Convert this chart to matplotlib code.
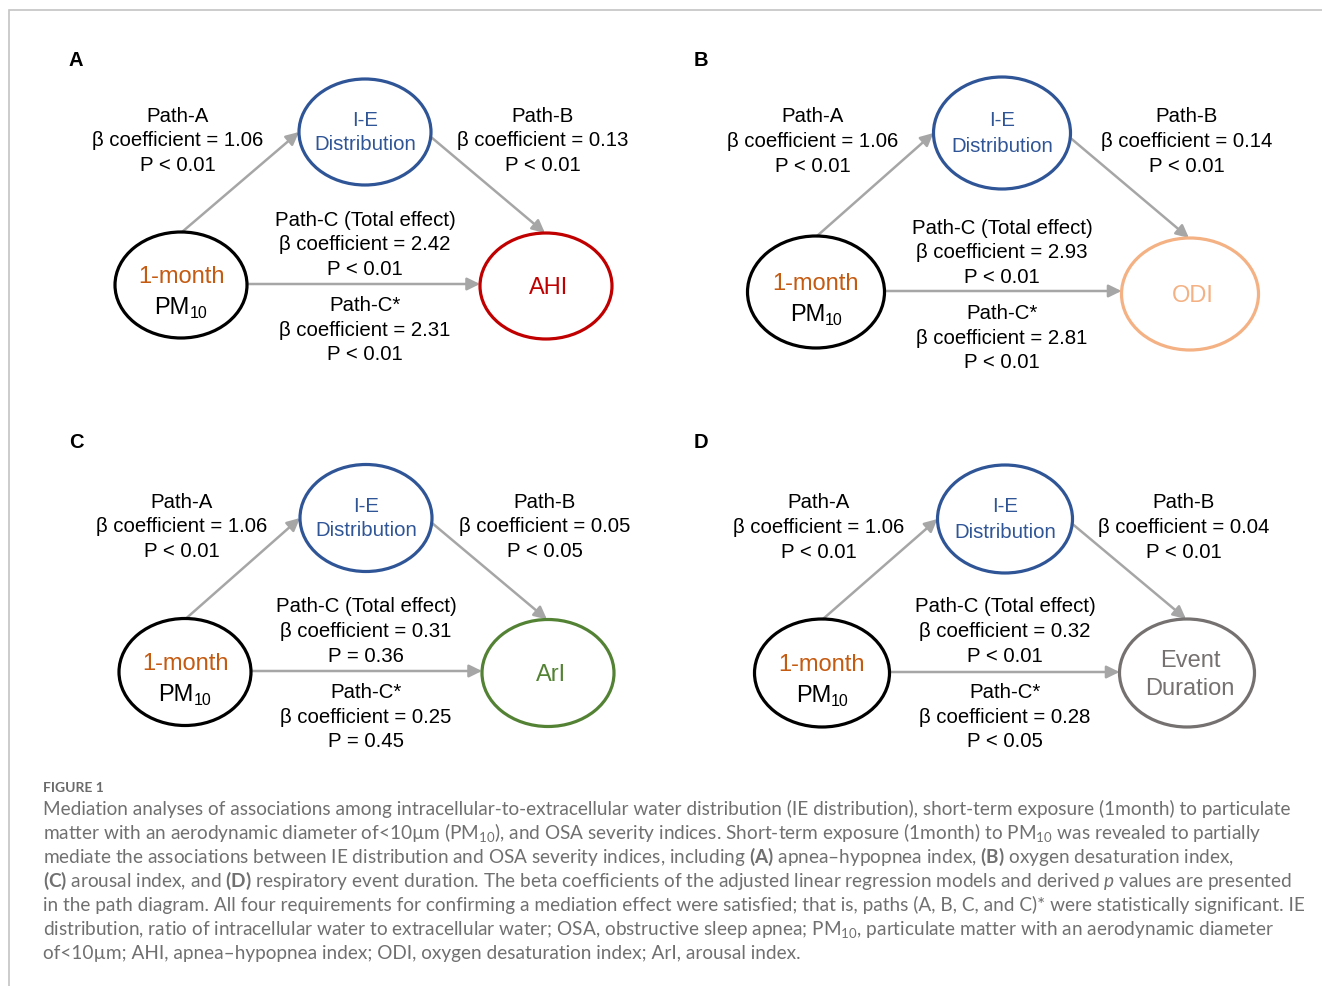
import matplotlib
matplotlib.use('Agg')
import matplotlib.pyplot as plt
from matplotlib.patches import Ellipse, FancyArrowPatch

plt.rcParams['font.family'] = ['Liberation Sans', 'DejaVu Sans']
plt.rcParams['mathtext.fontset'] = 'custom'
plt.rcParams['mathtext.rm'] = 'Lato'
plt.rcParams['mathtext.bf'] = 'Lato:bold'
plt.rcParams['mathtext.it'] = 'Lato:italic'

# mediation results per panel
panels = ['A', 'B', 'C', 'D']
outcomes = ['AHI', 'ODI', 'ArI', 'Event\nDuration']
beta_a = [1.06, 1.06, 1.06, 1.06]
p_a = ['P < 0.01', 'P < 0.01', 'P < 0.01', 'P < 0.01']
beta_b = [0.13, 0.14, 0.05, 0.04]
p_b = ['P < 0.01', 'P < 0.01', 'P < 0.05', 'P < 0.01']
beta_c = [2.42, 2.93, 0.31, 0.32]
p_c = ['P < 0.01', 'P < 0.01', 'P = 0.36', 'P < 0.01']
beta_cs = [2.31, 2.81, 0.25, 0.28]
p_cs = ['P < 0.01', 'P < 0.01', 'P = 0.45', 'P < 0.05']

# node layout (pixel space): mediator, exposure, outcome centres
ie_xy = [(365, 133), (1002, 134), (366, 519), (1005, 520)]
pm_xy = [(181, 286), (816, 293), (185, 673), (822, 674)]
out_xy = [(546, 287), (1190, 295), (548, 674), (1187, 674)]
node_wh = [(132, 106), (137, 112), (132, 107), (135, 108)]
letter_xy = [(76, 60), (701, 60), (76, 443), (701, 443)]
out_colors = ['#C00000', '#F4B183', '#548235', '#767171']

BLUE = '#2F5597'
ORANGE = '#C55A11'
ARROW = '#A6A6A6'
LINE_H = 24.7

W, H = 1322, 987
fig = plt.figure(figsize=(W / 100, H / 100), dpi=100)
ax = fig.add_axes([0, 0, 1, 1])
ax.set_xlim(0, W)
ax.set_ylim(H, 0)
ax.axis('off')

# figure frame
ax.plot([9, 9, W], [H, 11, 11], color='#C4C4C4', lw=1.2, solid_joinstyle='miter')


def block(x, y, lines, size=14.7, color='black'):
    for i, s in enumerate(lines):
        ax.text(x, y + i * LINE_H, s, ha='center', va='center', fontsize=size, color=color)


def arrow(p0, p1):
    ax.add_patch(FancyArrowPatch(p0, p1, arrowstyle='-|>,head_length=0.55,head_width=0.27',
                                 mutation_scale=14, color=ARROW, lw=1.8,
                                 shrinkA=0, shrinkB=0, zorder=1))


for k in range(4):
    w, h = node_wh[k]
    ix, iy = ie_xy[k]
    px, py = pm_xy[k]
    ox, oy = out_xy[k]

    ax.text(*letter_xy[k], panels[k], ha='center', va='center', fontsize=14.5, weight='bold')

    for (cx, cy), col in [((ix, iy), BLUE), ((px, py), 'black'), ((ox, oy), out_colors[k])]:
        ax.add_patch(Ellipse((cx, cy), w, h, fill=False, ec=col, lw=2.3, zorder=2))

    # paths
    arrow((px + 1, py - h / 2), (ix - w / 2, iy))
    arrow((ix + w / 2, iy + 5), (ox - 1, oy - h / 2))
    arrow((px + w / 2, py - 1), (ox - w / 2, py - 1))

    # node labels
    ax.text(ix, iy - 13, 'I-E', ha='center', va='center', fontsize=14.7, color=BLUE)
    ax.text(ix, iy + 12, 'Distribution', ha='center', va='center', fontsize=14.7, color=BLUE)
    ax.text(px, py - 9, '1-month', ha='center', va='center', fontsize=17, color=ORANGE)
    ax.text(px + 9, py + 28, 'PM', ha='right', va='baseline', fontsize=17)
    ax.text(px + 8.7, py + 32, '10', ha='left', va='baseline', fontsize=11.5)
    ax.text(ox + 3, oy + 1, outcomes[k], ha='center', va='center', fontsize=17,
            color=out_colors[k], linespacing=1.3)

    # coefficient labels
    block(px - 3, iy - 17, ['Path-A', f'β coefficient = {beta_a[k]:.2f}', p_a[k]])
    block(ox - 3, iy - 17, ['Path-B', f'β coefficient = {beta_b[k]:.2f}', p_b[k]])
    block(ix, oy - 67, ['Path-C (Total effect)', f'β coefficient = {beta_c[k]:.2f}', p_c[k]])
    block(ix, oy + 18.5, ['Path-C*', f'β coefficient = {beta_cs[k]:.2f}', p_cs[k]])

# caption
caption = [
    'Mediation analyses of associations among intracellular-to-extracellular water distribution (IE distribution), short-term exposure (1month) to particulate',
    'matter with an aerodynamic diameter of<10µm (PM$_{10}$), and OSA severity indices. Short-term exposure (1month) to PM$_{10}$ was revealed to partially',
    r'mediate the associations between IE distribution and OSA severity indices, including $\mathbf{(A)}$ apnea–hypopnea index, $\mathbf{(B)}$ oxygen desaturation index,',
    r'$\mathbf{(C)}$ arousal index, and $\mathbf{(D)}$ respiratory event duration. The beta coefficients of the adjusted linear regression models and derived $\mathit{p}$ values are presented',
    'in the path diagram. All four requirements for confirming a mediation effect were satisfied; that is, paths (A, B, C, and C)* were statistically significant. IE',
    'distribution, ratio of intracellular water to extracellular water; OSA, obstructive sleep apnea; PM$_{10}$, particulate matter with an aerodynamic diameter',
    'of<10µm; AHI, apnea–hypopnea index; ODI, oxygen desaturation index; ArI, arousal index.',
]

ax.text(43, 792, 'FIGURE 1', ha='left', va='baseline', fontsize=10, family='Lato',
        weight='bold', color='#6A6A6A')
cap_texts = [ax.text(43, 815 + i * 24, s, ha='left', va='baseline', fontsize=12,
                     family='Lato', color='#707070') for i, s in enumerate(caption)]

# scale caption so the first line spans the text column
fig.canvas.draw()
r = fig.canvas.get_renderer()
width = cap_texts[0].get_window_extent(r).width
for t in cap_texts:
    t.set_fontsize(12 * 1246 / width)

fig.savefig('out.png', dpi=100)
